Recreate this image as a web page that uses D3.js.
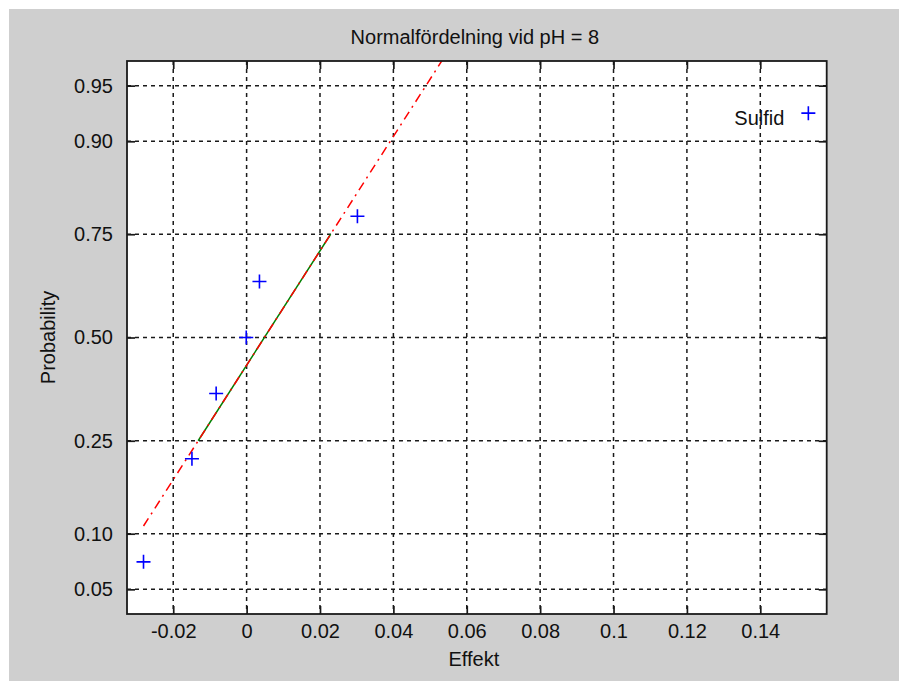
<!DOCTYPE html>
<html>
<head>
<meta charset="utf-8">
<script src="https://cdn.jsdelivr.net/npm/d3@7"></script>
<style>
  html, body { margin: 0; padding: 0; background: #ffffff; }
  svg { display: block; }
  text { font-family: "Liberation Sans", Arial, sans-serif; fill: #111; }
</style>
</head>
<body>
<svg id="chart" width="899" height="681"></svg>
<script>
// ---------------- data ----------------
const effekt      = [-0.0281, -0.0149, -0.0083, -0.0001, 0.0035, 0.0302, 0.1531];
const probability = [0.0714, 0.2143, 0.3571, 0.5000, 0.6429, 0.7857, 0.9286];
const pointLabels = ["", "", "", "", "", "", "Sulfid"];

// fit line through the 1st and 3rd quartiles (green), extended over the data range (red)
const quartileX = [-0.0132, 0.0229];
const quartileP = [0.25, 0.75];
const extendedX = [-0.0281, 0.1531];

const xTicks      = [-0.02, 0, 0.02, 0.04, 0.06, 0.08, 0.1, 0.12, 0.14];
const xTickLabels = ["-0.02", "0", "0.02", "0.04", "0.06", "0.08", "0.1", "0.12", "0.14"];
const yTicks      = [0.05, 0.10, 0.25, 0.50, 0.75, 0.90, 0.95];
const yTickLabels = ["0.05", "0.10", "0.25", "0.50", "0.75", "0.90", "0.95"];

const xLimits = [-0.0326, 0.1581];
const yLimits = [0.03546, 0.96454];

const titleText = "Normalfördelning vid pH = 8";
const xLabel = "Effekt";
const yLabel = "Probability";

// ---------------- inverse normal CDF (probit) ----------------
function probit(p) {
  const a = [-3.969683028665376e+01, 2.209460984245205e+02, -2.759285104469687e+02,
              1.383577518672690e+02, -3.066479806614716e+01, 2.506628277459239e+00];
  const b = [-5.447609879822406e+01, 1.615858368580409e+02, -1.556989798598866e+02,
              6.680131188771972e+01, -1.328068155288572e+01];
  const c = [-7.784894002430293e-03, -3.223964580411365e-01, -2.400758277161838e+00,
             -2.549732539343734e+00, 4.374664141464968e+00, 2.938163982698783e+00];
  const d = [7.784695709041462e-03, 3.224671290700398e-01, 2.445134137142996e+00,
             3.754408661907416e+00];
  const pl = 0.02425, ph = 1 - pl;
  let q, r;
  if (p < pl) {
    q = Math.sqrt(-2 * Math.log(p));
    return (((((c[0]*q+c[1])*q+c[2])*q+c[3])*q+c[4])*q+c[5]) /
           ((((d[0]*q+d[1])*q+d[2])*q+d[3])*q+1);
  } else if (p <= ph) {
    q = p - 0.5; r = q * q;
    return (((((a[0]*r+a[1])*r+a[2])*r+a[3])*r+a[4])*r+a[5])*q /
           (((((b[0]*r+b[1])*r+b[2])*r+b[3])*r+b[4])*r+1);
  } else {
    q = Math.sqrt(-2 * Math.log(1 - p));
    return -(((((c[0]*q+c[1])*q+c[2])*q+c[3])*q+c[4])*q+c[5]) /
            ((((d[0]*q+d[1])*q+d[2])*q+d[3])*q+1);
  }
}

// ---------------- layout ----------------
const W = 899, H = 681;
const plot = { left: 127, top: 61, right: 826.7, bottom: 614 };
const pw = plot.right - plot.left, ph = plot.bottom - plot.top;

const svg = d3.select("#chart");
svg.append("rect").attr("x", 9).attr("y", 9).attr("width", W - 9).attr("height", H - 9)
   .attr("fill", "#cfcfcf");

const g = svg.append("g").attr("transform", `translate(${plot.left},${plot.top})`);
g.append("rect").attr("width", pw).attr("height", ph).attr("fill", "#ffffff");

const x = d3.scaleLinear().domain(xLimits).range([0, pw]);
const zScale = d3.scaleLinear().domain(yLimits.map(probit)).range([ph, 0]);
const y = p => zScale(probit(p));

// clip
svg.append("defs").append("clipPath").attr("id", "clip")
   .append("rect").attr("width", pw).attr("height", ph);

// ---------------- grid ----------------
const gridStyle = sel => sel.attr("stroke", "#1a1a1a").attr("stroke-width", 1.5)
                            .attr("stroke-dasharray", "4,4");
g.append("g").selectAll("line").data(xTicks).join("line")
  .attr("x1", d => x(d)).attr("x2", d => x(d)).attr("y1", 0).attr("y2", ph)
  .call(gridStyle);
g.append("g").selectAll("line").data(yTicks).join("line")
  .attr("y1", d => y(d)).attr("y2", d => y(d)).attr("x1", 0).attr("x2", pw)
  .call(gridStyle);

// ---------------- axes (inward ticks, MATLAB style) ----------------
const tickLen = 8;
const fontSize = 20;
const xLabelOf = d => xTickLabels[xTicks.indexOf(d)];

const axB = g.append("g").attr("transform", `translate(0,${ph})`)
  .call(d3.axisBottom(x).tickValues(xTicks).tickFormat(xLabelOf).tickSize(-tickLen).tickPadding(10));
const axT = g.append("g")
  .call(d3.axisTop(x).tickValues(xTicks).tickFormat("").tickSize(-tickLen));
const axL = g.append("g")
  .call(d3.axisLeft(zScale).tickValues(yTicks.map(probit))
        .tickFormat((d, i) => yTickLabels[i]).tickSize(-tickLen).tickPadding(14));
const axR = g.append("g").attr("transform", `translate(${pw},0)`)
  .call(d3.axisRight(zScale).tickValues(yTicks.map(probit)).tickFormat("").tickSize(-tickLen));

[axB, axT, axL, axR].forEach(a => {
  a.select(".domain").remove();
  a.selectAll(".tick line").attr("stroke", "#1a1a1a").attr("stroke-width", 1.7);
  a.selectAll(".tick text").attr("font-size", fontSize)
   .attr("font-family", '"Liberation Sans", Arial, sans-serif').attr("fill", "#111");
});

// ---------------- lines ----------------
const lineGen = d3.line().x(d => x(d[0])).y(d => zScale(d[1]));
const zq = quartileP.map(probit);
const slope = (zq[1] - zq[0]) / (quartileX[1] - quartileX[0]);
const zAt = xv => zq[0] + (xv - quartileX[0]) * slope;

const plotArea = g.append("g").attr("clip-path", "url(#clip)");
plotArea.append("path")
  .datum(quartileX.map((xv, i) => [xv, zq[i]]))
  .attr("d", lineGen).attr("fill", "none")
  .attr("stroke", "#008000").attr("stroke-width", 1.5);
plotArea.append("path")
  .datum(extendedX.map(xv => [xv, zAt(xv)]))
  .attr("d", lineGen).attr("fill", "none")
  .attr("stroke", "#ff0000").attr("stroke-width", 1.5)
  .attr("stroke-dasharray", "9,5,2,5");

// ---------------- data markers ----------------
const pts = effekt.map((e, i) => ({ x: e, p: probability[i], label: pointLabels[i] }));
g.append("g").selectAll("path").data(pts).join("path")
  .attr("transform", d => `translate(${x(d.x)},${y(d.p)})`)
  .attr("d", "M-7,0H7M0,-7V7")
  .attr("stroke", "#0000ff").attr("stroke-width", 1.6).attr("fill", "none");

g.append("g").selectAll("text").data(pts.filter(d => d.label)).join("text")
  .attr("x", d => x(d.x) - 24).attr("y", d => y(d.p) + 12)
  .attr("text-anchor", "end").attr("font-size", fontSize)
  .text(d => d.label);

// ---------------- box ----------------
g.append("rect").attr("width", pw).attr("height", ph).attr("fill", "none")
  .attr("stroke", "#1a1a1a").attr("stroke-width", 1.8);

// ---------------- titles ----------------
const cx = plot.left + pw / 2;
svg.append("text").attr("x", cx - 2).attr("y", 44).attr("text-anchor", "middle")
  .attr("font-size", fontSize).text(titleText);
svg.append("text").attr("x", cx - 3).attr("y", 666).attr("text-anchor", "middle")
  .attr("font-size", fontSize).text(xLabel);
svg.append("text").attr("transform", `translate(55,${plot.top + ph / 2}) rotate(-90)`)
  .attr("text-anchor", "middle").attr("font-size", fontSize).text(yLabel);
</script>
</body>
</html>
